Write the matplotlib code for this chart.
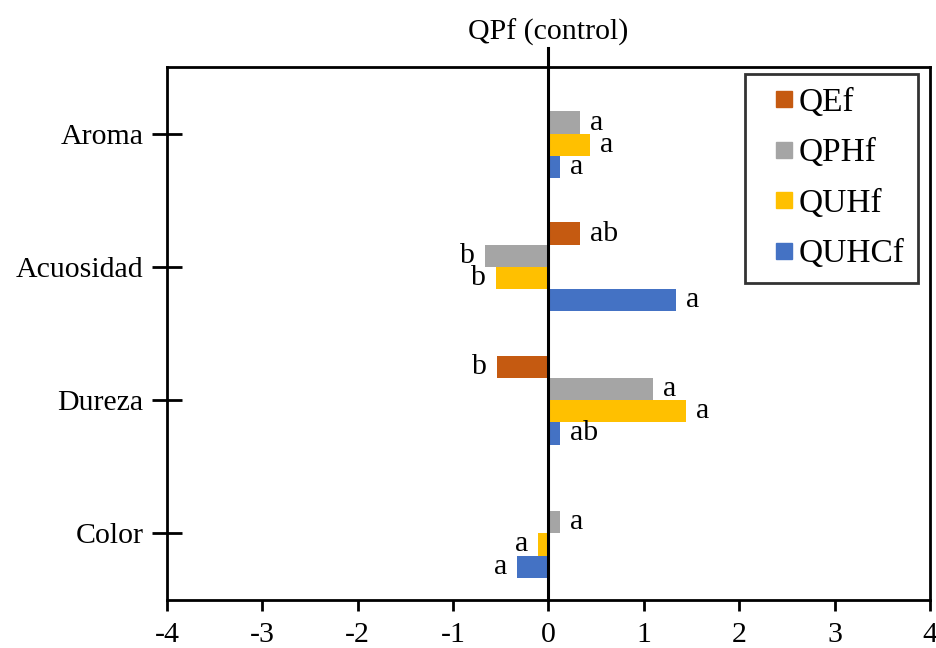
import numpy as np
import matplotlib.pyplot as plt
from matplotlib.lines import Line2D

plt.rcParams['font.family'] = ['Liberation Serif', 'DejaVu Serif']
plt.rcParams['font.size'] = 21.5
plt.rcParams['axes.unicode_minus'] = False

# sensory attributes, top to bottom
categories = ["Aroma", "Acuosidad", "Dureza", "Color"]

# difference vs. control QPf, one list per treatment
series = ["QEf", "QPHf", "QUHf", "QUHCf"]
values = {
    "QEf":   [0.0, 0.33, -0.54, 0.0],
    "QPHf":  [0.33, -0.67, 1.10, 0.12],
    "QUHf":  [0.44, -0.55, 1.44, -0.11],
    "QUHCf": [0.12, 1.34, 0.12, -0.33],
}
letters = {
    "QEf":   ["", "ab", "b", ""],
    "QPHf":  ["a", "b", "a", "a"],
    "QUHf":  ["a", "b", "a", "a"],
    "QUHCf": ["a", "a", "ab", "a"],
}
colors = {"QEf": "#C55A11", "QPHf": "#A5A5A5", "QUHf": "#FFC000", "QUHCf": "#4472C4"}

fig = plt.figure(figsize=(9.36, 6.48), dpi=100)
ax = fig.add_axes([0.1784, 0.0741, 0.8152, 0.8225])

y = np.arange(len(categories))
h = 1 / 6
for i, s in enumerate(series):
    pos = y - 1.5 * h + i * h
    ax.barh(pos, values[s], height=h, color=colors[s], zorder=2)
    for p, v, t in zip(pos, values[s], letters[s]):
        if not t:
            continue
        ax.annotate(t, (v, p), xytext=(7 if v >= 0 else -7, 0),
                    textcoords="offset points", ha="left" if v >= 0 else "right",
                    va="center")

# control reference line
ax.axvline(0, ymin=0, ymax=1.036, color="black", lw=2.2, clip_on=False, zorder=3)
ax.text(0, 1.04, "QPf (control)", transform=ax.get_xaxis_transform(),
        ha="center", va="bottom")

ax.set_xlim(-4, 4)
ax.set_xticks(range(-4, 5))
ax.set_ylim(3.5, -0.5)
ax.set_yticks(y)
ax.set_yticklabels(categories)

for sp in ax.spines.values():
    sp.set_linewidth(2)
ax.tick_params(axis="x", direction="out", length=8, width=2, pad=8)
ax.tick_params(axis="y", direction="inout", length=22, width=2, pad=6)

handles = [Line2D([], [], ls="none", marker="s", markersize=11,
                  markerfacecolor=colors[s], markeredgecolor=colors[s]) for s in series]
leg = ax.legend(handles, series, loc="upper right", bbox_to_anchor=(0.984, 0.987),
                fancybox=False, edgecolor="black", fontsize=24,
                handlelength=1.5, handletextpad=-0.3, labelspacing=0.6,
                borderpad=0.4, borderaxespad=0)
leg.get_frame().set_linewidth(2)

plt.savefig("out.png")
